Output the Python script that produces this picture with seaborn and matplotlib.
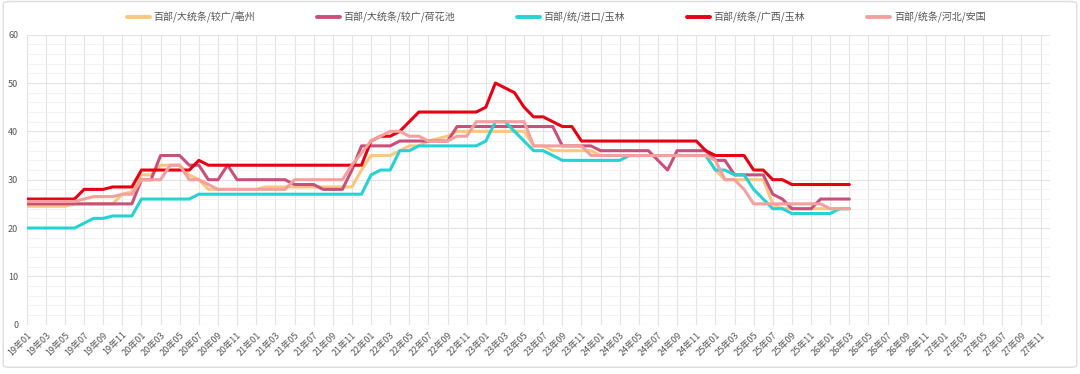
import matplotlib
matplotlib.use("Agg")
import matplotlib.pyplot as plt
from matplotlib.patches import FancyBboxPatch
from matplotlib.ticker import MultipleLocator
import seaborn as sns
import pandas as pd

# monthly categories 19年01 .. 27年12 (data stops at 26年03)
months = [f"{y}年{m:02d}" for y in range(19, 28) for m in range(1, 13)]

names = ["百部/大统条/较广/亳州", "百部/大统条/较广/荷花池", "百部/统/进口/玉林",
         "百部/统条/广西/玉林", "百部/统条/河北/安国"]
colors = ["#F9C77F", "#C9507A", "#26D3D3", "#E60012", "#F4A09E"]

bozhou = ([24.5] * 5 + [25] * 5 + [27, 27.5, 31, 31, 33, 33, 33, 31, 30] + [28] * 6 + [28.5] * 10
          + [32, 35, 35, 35, 36, 37, 37, 38, 38.5, 39] + [40] * 8 + [37, 37] + [36] * 5 + [35] * 12
          + [32] + [30] * 5 + [25] + [24] * 8)
hehuachi = ([25] * 12 + [30, 30, 35, 35, 35, 33, 33, 30, 30, 33] + [30] * 6 + [29] * 3 + [28] * 3
            + [32] + [37] * 4 + [38] * 6 + [41] * 11 + [37] * 4 + [36] * 6 + [34, 32] + [36] * 4
            + [34, 34] + [31] * 4 + [27, 26] + [24] * 3 + [26] * 4)
jinkou = ([20] * 6 + [21, 22, 22] + [22.5] * 3 + [26] * 6 + [27] * 18 + [31, 32, 32, 36, 36]
          + [37] * 7 + [38, 42, 42, 40, 38, 36, 36, 35] + [34] * 7 + [35] * 9
          + [32, 32, 31, 31, 28, 26, 24, 24] + [23] * 5 + [24, 24])
guangxi = ([26] * 6 + [28] * 3 + [28.5] * 3 + [32] * 6 + [34] + [33] * 17 + [38, 39, 39, 40, 42]
           + [44] * 7 + [45, 50, 49, 48, 45, 43, 43, 42, 41, 41] + [38] * 13 + [36] + [35] * 4
           + [32, 32, 30, 30] + [29] * 7)
anguo = ([25.5] * 6 + [26] + [26.5] * 3 + [27, 27] + [30] * 3 + [33, 33, 30, 30, 29] + [28] * 8
         + [30] * 6 + [33, 35.5, 38, 39, 40, 40, 39, 39, 38, 38, 38, 39, 39] + [42] * 6 + [37] * 6
         + [35] * 13 + [34, 30, 30, 28] + [25] * 8 + [24] * 3)

series = [bozhou, hehuachi, jinkou, guangxi, anguo]

rows = []
for name, vals in zip(names, series):
    for i, v in enumerate(vals):
        rows.append({"idx": i, "month": months[i], "price": v, "series": name})
df = pd.DataFrame(rows)

sns.set_theme(style="white")
plt.rcParams['font.family'] = ['Noto Sans CJK SC', 'DejaVu Sans']

fig = plt.figure(figsize=(10.8, 3.74), dpi=100)
ax = fig.add_axes([0.0247, 0.1318, 0.9477, 0.7754])

sns.lineplot(data=df, x="idx", y="price", hue="series", hue_order=names,
             palette=dict(zip(names, colors)), linewidth=2.2, ax=ax)

ax.set_xlim(0, len(months) - 1)
ax.set_ylim(0, 60)
ax.set_xticks(range(0, len(months), 2))
ax.set_xticklabels(months[::2], rotation=45, ha="right", rotation_mode="anchor",
                   fontsize=6.5, color="#555555")
ax.set_yticks(range(0, 61, 10))
ax.yaxis.set_minor_locator(MultipleLocator(2))
ax.tick_params(axis="y", labelsize=6.5, labelcolor="#555555", length=0, pad=6)
ax.tick_params(axis="x", length=0, pad=4)
ax.tick_params(which="minor", length=0)
ax.set_xlabel("")
ax.set_ylabel("")

ax.grid(True, which="major", axis="both", color="#e3e3e3", linewidth=0.8)
ax.grid(True, which="minor", axis="y", color="#f1f1f1", linewidth=0.6)
ax.set_axisbelow(True)
for s in ax.spines.values():
    s.set_visible(False)

leg = ax.legend(loc="center", bbox_to_anchor=(0.515, 0.953), bbox_transform=fig.transFigure,
                ncol=5, frameon=False, fontsize=7.2, handlelength=2.3, handletextpad=0.35,
                columnspacing=6.2)
for line in leg.get_lines():
    line.set_linewidth(2.8)
for t in leg.get_texts():
    t.set_color("#555555")

# light frame round the whole chart
fig.patches.append(FancyBboxPatch((0.003, 0.018), 0.994, 0.978, boxstyle="round,pad=0,rounding_size=0.006",
                                  transform=fig.transFigure, fill=False, edgecolor="#dddddd", linewidth=1))

fig.savefig("out.png", dpi=100)
